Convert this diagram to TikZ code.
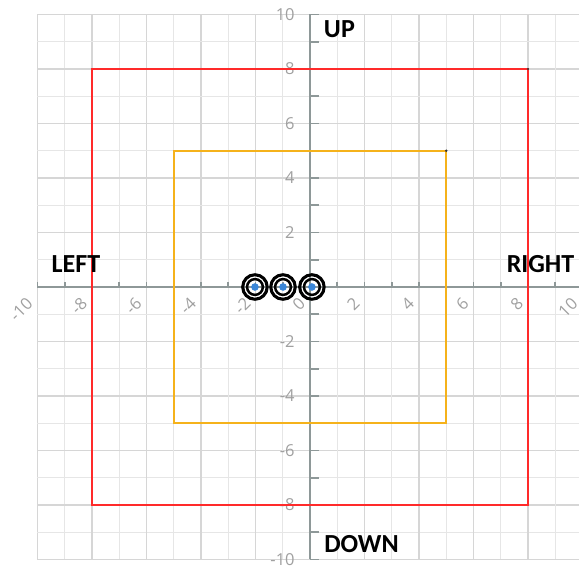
\documentclass[tikz,border=0pt]{standalone}
\usepackage{fontspec}
\setmainfont{Carlito}
\newfontfamily\axfont{Open Sans}
\definecolor{gridminor}{HTML}{E6E6E6}
\definecolor{gridmajor}{HTML}{D6D6D6}
\definecolor{axisgray}{HTML}{8E9898}
\definecolor{labelgray}{HTML}{A0A0A0}
\definecolor{boxred}{HTML}{FF2A2A}
\definecolor{boxorange}{HTML}{F5B21B}
\definecolor{dotblue}{HTML}{3A86D8}
\tikzset{
  minorline/.style={gridminor, line width=0.7pt},
  majorline/.style={gridmajor, line width=0.8pt},
  axisline/.style={axisgray, line width=1pt},
  ticklbl/.style={text=labelgray, font=\axfont\fontsize{8.6}{9}\selectfont, inner sep=0pt},
  dirlbl/.style={font=\bfseries\fontsize{13.6}{15}\selectfont, text=black, inner sep=0pt},
  ring/.style={draw=black},
}
\begin{document}
\begin{tikzpicture}[x=0.5cm,y=0.5cm]
\useasboundingbox (-11.376,-10.385) rectangle (9.872,10.532);
\fill[white] (-11.376,-10.385) rectangle (9.872,10.532);
\begin{scope}
\clip (-11.376,-10.385) rectangle (9.872,10.532);
% grid
\foreach \i in {-10,...,10}{
  \pgfmathtruncatemacro{\m}{mod(abs(\i),2)}
  \ifnum\m=0
    \draw[majorline] (\i,-10) -- (\i,10);
    \draw[majorline] (-10,\i) -- (10,\i);
  \else
    \draw[minorline] (\i,-10) -- (\i,10);
    \draw[minorline] (-10,\i) -- (10,\i);
  \fi
}
% axes
\draw[axisline] (-10,0) -- (10,0);
\draw[axisline] (0,-10) -- (0,10);
\foreach \i in {-10,...,10}{
  \draw[axisline] (\i,0) -- (\i,0.2);
  \draw[axisline] (0,\i) -- (0.32,\i);
}
\end{scope}
% tick labels
\foreach \i in {-10,-8,...,10}{
  \node[ticklbl, anchor=east, rotate=45] (xl\i) at (\i-0.28,-0.5) {\i};
}
\foreach \i in {-10,-8,-6,-4,-2,2,4,6,8,10}{
  \node[ticklbl, anchor=east] (yl\i) at (-0.55,\i) {\i};
}
% boxes
\draw[boxred, line width=1.05pt] (-8,-8) rectangle (8,8);
\draw[boxorange, line width=1.05pt] (-5,-5) rectangle (5,5);
\fill[black!80] (8,8) circle (0.04);
\fill[black!80] (5,5) circle (0.05);
% targets
\foreach \c/\n in {-2.02/a,-0.99/b,0.07/c}{
  \coordinate (t\n) at (\c,0);
  \draw[ring, line width=1.6pt] (t\n) circle (0.45);
  \draw[ring, line width=1.3pt] (t\n) circle (0.29);
  \fill[dotblue] (t\n) circle (0.14);
}
% direction labels
\node[dirlbl] (up) at (1.08,9.45) {UP};
\node[dirlbl] (left) at (-8.59,0.84) {LEFT};
\node[dirlbl] (right) at (8.46,0.84) {RIGHT};
\node[dirlbl] (down) at (1.89,-9.43) {DOWN};
\end{tikzpicture}
\end{document}
